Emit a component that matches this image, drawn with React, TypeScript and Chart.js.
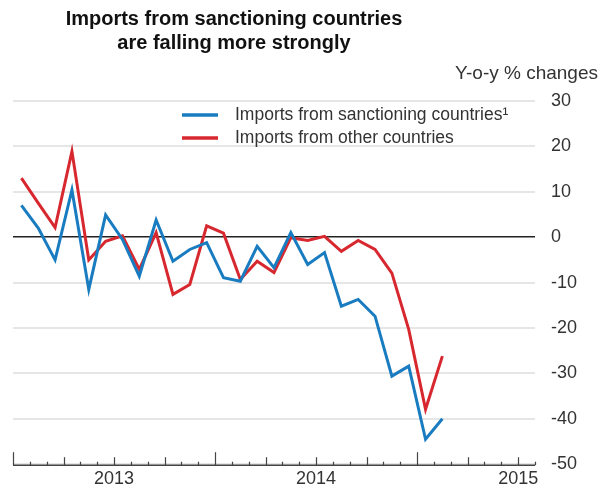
import React, { useEffect, useRef } from 'react';
import { Chart, registerables } from 'chart.js';
Chart.register(...registerables);

// Monthly observations, Jan 2013 – Feb 2015
const months = [
  'Jan 2013', 'Feb 2013', 'Mar 2013', 'Apr 2013', 'May 2013', 'Jun 2013',
  'Jul 2013', 'Aug 2013', 'Sep 2013', 'Oct 2013', 'Nov 2013', 'Dec 2013',
  'Jan 2014', 'Feb 2014', 'Mar 2014', 'Apr 2014', 'May 2014', 'Jun 2014',
  'Jul 2014', 'Aug 2014', 'Sep 2014', 'Oct 2014', 'Nov 2014', 'Dec 2014',
  'Jan 2015', 'Feb 2015',
];
const sanctioning = [
  7, 2, -5, 10.4, -11.5, 4.9, -0.5, -8.6, 3.8, -5.3, -2.7, -1.2,
  -8.9, -9.7, -2, -6.7, 1, -6, -3.4, -15.2, -13.7, -17.4, -30.6, -28.4,
  -44.5, -40,
];
const other = [
  13, 7.5, 2.1, 18.9, -5, -0.9, 0.3, -7.1, 1, -12.6, -10.4, 2.5,
  0.9, -9.3, -5.3, -7.8, -0.1, -0.7, 0.2, -3.1, -0.7, -2.7, -7.9, -20.3,
  -37.9, -26.2,
];
const seriesNames = ['Imports from sanctioning countries\u00b9', 'Imports from other countries'];
const yearLabels = ['2013', '2014', '2015'];
const axisMonths = 31; // Jan 2013 .. Jul 2015
const yMin = -50;
const yMax = 30;
const yStep = 10;

const FONT = '"Liberation Sans", Arial, Helvetica, sans-serif';
const BLUE = '#1a7cc0';
const RED = '#d8282f';
const TEXT = '#333333';

const axisPlugin = {
  id: 'customAxis',
  afterDatasetsDraw(chart: any) {
    const { ctx, chartArea, scales } = chart;
    const xs = scales.x;
    const bottom = chartArea.bottom + 1;
    ctx.save();
    // axis line
    ctx.strokeStyle = '#444';
    ctx.lineWidth = 1.5;
    ctx.beginPath();
    ctx.moveTo(xs.getPixelForValue(0), bottom);
    ctx.lineTo(xs.getPixelForValue(axisMonths), bottom);
    ctx.stroke();
    // ticks
    ctx.lineWidth = 1.2;
    for (let m = 0; m <= axisMonths; m++) {
      const h = m % 12 === 0 ? 13 : m % 3 === 0 ? 8 : 3.5;
      const px = Math.round(xs.getPixelForValue(m)) + 0.5;
      ctx.beginPath();
      ctx.moveTo(px, bottom);
      ctx.lineTo(px, bottom - h);
      ctx.stroke();
    }
    // year labels
    ctx.fillStyle = TEXT;
    ctx.font = `18px ${FONT}`;
    ctx.textAlign = 'center';
    ctx.textBaseline = 'middle';
    yearLabels.forEach((lab, i) => {
      ctx.fillText(lab, xs.getPixelForValue(i * 12 + 6), bottom + 14);
    });
    // legend
    const datasets = chart.data.datasets;
    datasets.forEach((ds: any, i: number) => {
      const ly = 115 + i * 23;
      ctx.strokeStyle = ds.borderColor;
      ctx.lineWidth = 3.5;
      ctx.beginPath();
      ctx.moveTo(182, ly);
      ctx.lineTo(218, ly);
      ctx.stroke();
      ctx.fillStyle = TEXT;
      ctx.font = `17.5px ${FONT}`;
      ctx.textAlign = 'left';
      ctx.textBaseline = 'middle';
      ctx.fillText(ds.label, 235, ly);
    });
    ctx.restore();
  },
};

export default function App() {
  const ref = useRef<HTMLCanvasElement>(null);
  useEffect(() => {
    if (!ref.current) return;
    const chart = new Chart(ref.current, {
      type: 'line',
      data: {
        datasets: [
          {
            label: seriesNames[0],
            data: sanctioning.map((v, i) => ({ x: i + 0.5, y: v })),
            borderColor: BLUE,
            backgroundColor: BLUE,
            borderWidth: 3,
            pointRadius: 0,
            tension: 0,
          },
          {
            label: seriesNames[1],
            data: other.map((v, i) => ({ x: i + 0.5, y: v })),
            borderColor: RED,
            backgroundColor: RED,
            borderWidth: 3,
            pointRadius: 0,
            tension: 0,
          },
        ],
      },
      options: {
        responsive: false,
        animation: false,
        layout: { padding: { left: 13, top: 101, bottom: 25, right: 0 } },
        plugins: {
          legend: { display: false },
          title: { display: false },
          tooltip: { enabled: false },
        },
        scales: {
          x: {
            type: 'linear',
            min: 0,
            max: axisMonths,
            display: false,
          },
          y: {
            position: 'right',
            min: yMin,
            max: yMax,
            border: { display: false },
            grid: {
              drawTicks: false,
              color: (c: any) => (c.tick && c.tick.value === 0 ? '#222' : '#e6e6e6'),
              lineWidth: (c: any) => (c.tick && c.tick.value === 0 ? 1.5 : 2),
            },
            ticks: {
              stepSize: yStep,
              padding: 16,
              color: TEXT,
              font: { family: FONT, size: 18 },
            },
            afterFit: (scale: any) => {
              scale.width = 65;
            },
          },
        },
      },
      plugins: [axisPlugin],
    });
    return () => chart.destroy();
  }, []);

  return (
    <div
      style={{
        position: 'fixed',
        left: 0,
        top: 0,
        width: 600,
        height: 491,
        background: '#fff',
        fontFamily: FONT,
        color: TEXT,
      }}
    >
      <div
        style={{
          position: 'absolute',
          left: 0,
          top: 7,
          width: 468,
          textAlign: 'center',
          fontWeight: 'bold',
          fontSize: 20,
          lineHeight: '23.5px',
          color: '#111',
        }}
      >
        Imports from sanctioning countries
        <br />
        are falling more strongly
      </div>
      <div
        style={{
          position: 'absolute',
          right: 2,
          top: 62,
          fontSize: 19,
          lineHeight: '21px',
          whiteSpace: 'nowrap',
        }}
      >
        Y-o-y % changes
      </div>
      <canvas ref={ref} width={600} height={491} style={{ display: 'block' }} />
    </div>
  );
}
